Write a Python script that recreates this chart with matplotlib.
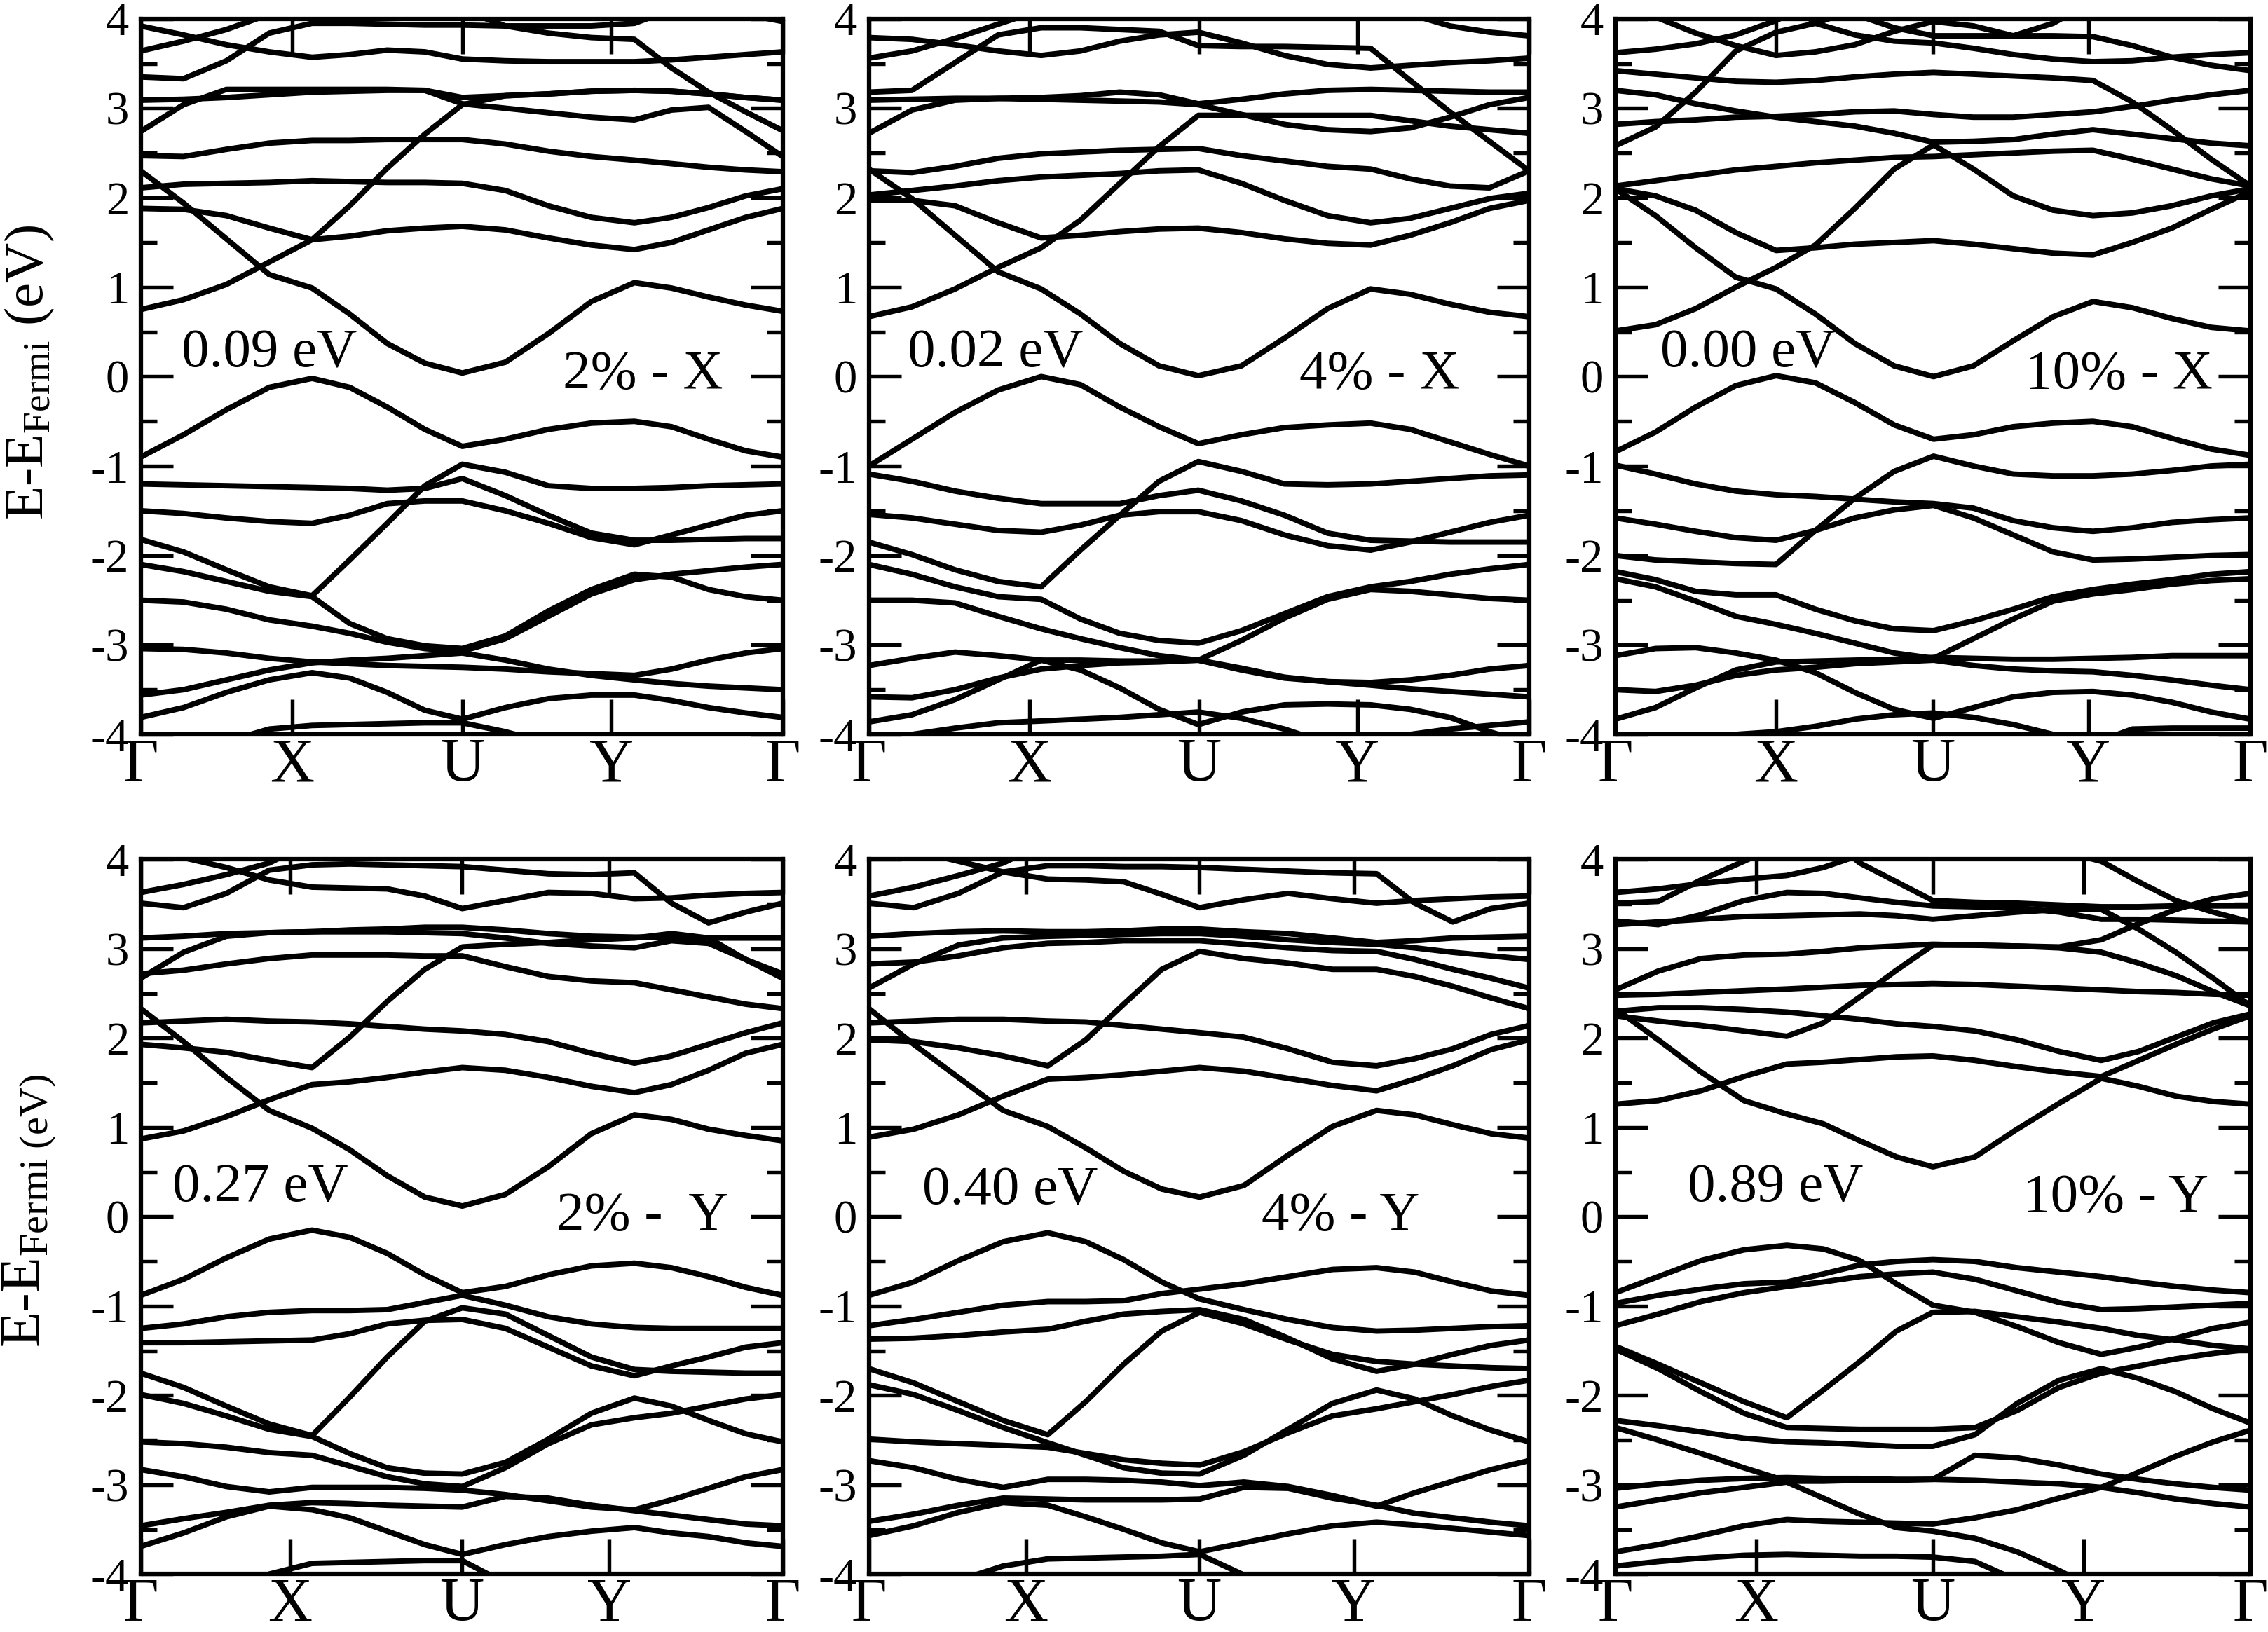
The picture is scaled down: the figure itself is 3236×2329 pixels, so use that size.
import numpy as np
import matplotlib.pyplot as plt
from matplotlib.ticker import MultipleLocator

plt.rcParams['font.family'] = ['Liberation Serif', 'DejaVu Serif']
plt.rcParams['mathtext.fontset'] = 'custom'
plt.rcParams['mathtext.rm'] = 'Liberation Serif'
plt.rcParams['mathtext.it'] = 'Liberation Serif:italic'
plt.rcParams['axes.unicode_minus'] = False

kpath_labels = ['Γ', 'X', 'U', 'Y', 'Γ']
H = 4.3  # band above window
L = -4.3  # band below window

# ---- 2% - X ----
p1_nodes = [0, 0.267, 0.501, 0.769, 1]
p1_ticks = [0, 0.236, 0.501, 0.733, 1]
p1_bands = [
    [3.92, 3.82, 3.71, 3.63, 3.57, 3.60, 3.65, 3.63, 3.55, 3.53, 3.52, 3.52, 3.52, 3.54, 3.57, 3.60, 3.63],
    [3.64, 3.75, 3.88, 4.05, 4.2, H, H, H, H, H, H, H, H, H, H, H, H],
    [3.35, 3.33, 3.53, 3.84, 3.95, 3.95, 3.94, 3.93, 3.93, 3.92, 3.92, 3.92, 3.95, 4.10, 4.15, 4.05, 3.97],
    [4.4, 4.4, 4.4, 4.4, 4.4, 4.4, 4.3, 4.2, 4.1, 3.92, 3.84, 3.79, 3.77, 3.45, 3.18, 2.96, 2.75],
    [3.09, 3.10, 3.12, 3.15, 3.18, 3.19, 3.20, 3.20, 3.12, 3.14, 3.16, 3.19, 3.20, 3.19, 3.16, 3.12, 3.09],
    [2.74, 3.04, 3.21, 3.21, 3.21, 3.21, 3.21, 3.20, 3.05, 3.00, 2.95, 2.90, 2.87, 2.98, 3.01, 2.74, 2.46],
    [0.75, 0.86, 1.03, 1.28, 1.53, 1.91, 2.33, 2.71, 3.04, 3.14, 3.16, 3.19, 3.20, 3.19, 3.16, 3.12, 3.09],
    [2.47, 2.46, 2.54, 2.61, 2.64, 2.64, 2.65, 2.65, 2.65, 2.60, 2.52, 2.46, 2.42, 2.38, 2.34, 2.31, 2.29],
    [2.11, 2.15, 2.16, 2.17, 2.19, 2.18, 2.17, 2.17, 2.16, 2.08, 1.91, 1.78, 1.72, 1.78, 1.89, 2.02, 2.10],
    [1.88, 1.87, 1.80, 1.66, 1.53, 1.57, 1.63, 1.66, 1.68, 1.64, 1.55, 1.47, 1.42, 1.50, 1.64, 1.78, 1.88],
    [2.30, 1.94, 1.54, 1.14, 0.99, 0.70, 0.37, 0.15, 0.04, 0.16, 0.48, 0.84, 1.05, 0.99, 0.89, 0.80, 0.73],
    [-0.90, -0.65, -0.37, -0.12, -0.02, -0.12, -0.34, -0.59, -0.78, -0.70, -0.59, -0.52, -0.50, -0.56, -0.70, -0.83, -0.90],
    [-1.20, -1.21, -1.22, -1.23, -1.24, -1.25, -1.27, -1.25, -1.14, -1.33, -1.55, -1.75, -1.83, -1.83, -1.82, -1.81, -1.81],
    [-1.82, -1.96, -2.16, -2.35, -2.45, -2.05, -1.64, -1.22, -0.98, -1.07, -1.22, -1.25, -1.25, -1.24, -1.22, -1.21, -1.20],
    [-1.50, -1.53, -1.58, -1.62, -1.64, -1.55, -1.42, -1.39, -1.39, -1.50, -1.64, -1.80, -1.88, -1.77, -1.66, -1.55, -1.50],
    [-2.10, -2.18, -2.29, -2.40, -2.46, -2.76, -2.93, -3.01, -3.04, -2.90, -2.62, -2.38, -2.21, -2.24, -2.38, -2.46, -2.50],
    [-2.50, -2.52, -2.60, -2.72, -2.79, -2.87, -2.97, -3.04, -3.07, -2.93, -2.68, -2.43, -2.27, -2.21, -2.17, -2.13, -2.10],
    [-3.04, -3.05, -3.09, -3.15, -3.19, -3.21, -3.23, -3.24, -3.25, -3.27, -3.30, -3.32, -3.34, -3.27, -3.17, -3.09, -3.04],
    [-3.56, -3.50, -3.39, -3.28, -3.20, -3.17, -3.15, -3.12, -3.09, -3.17, -3.27, -3.34, -3.39, -3.43, -3.46, -3.48, -3.50],
    [-3.81, -3.70, -3.53, -3.39, -3.31, -3.37, -3.53, -3.73, -3.83, -3.70, -3.60, -3.56, -3.56, -3.62, -3.70, -3.76, -3.81],
    [L, -4.2, -4.08, -3.94, -3.90, -3.89, -3.88, -3.87, -3.87, -3.97, -4.1, L, L, L, L, L, L],
]

# ---- 4% - X ----
p2_nodes = [0, 0.261, 0.499, 0.760, 1]
p2_ticks = [0, 0.243, 0.500, 0.740, 1]
p2_bands = [
    [3.79, 3.77, 3.71, 3.64, 3.59, 3.64, 3.75, 3.82, 3.85, 3.73, 3.59, 3.49, 3.45, 3.48, 3.51, 3.53, 3.56],
    [3.56, 3.64, 3.78, 3.94, 4.1, H, H, H, H, H, H, H, H, H, H, H, H],
    [H, H, H, H, H, H, H, H, H, H, H, H, H, 4.05, 3.92, 3.85, 3.81],
    [3.18, 3.20, 3.51, 3.82, 3.90, 3.90, 3.88, 3.86, 3.70, 3.69, 3.69, 3.68, 3.67, 3.31, 2.96, 2.63, 2.30],
    [3.09, 3.10, 3.11, 3.11, 3.12, 3.14, 3.18, 3.15, 3.05, 3.10, 3.16, 3.20, 3.21, 3.20, 3.19, 3.18, 3.18],
    [2.72, 2.98, 3.09, 3.11, 3.10, 3.09, 3.08, 3.07, 3.04, 2.93, 2.82, 2.76, 2.74, 2.78, 2.90, 3.04, 3.12],
    [0.67, 0.78, 0.98, 1.22, 1.44, 1.75, 2.16, 2.57, 2.92, 2.92, 2.92, 2.92, 2.92, 2.86, 2.80, 2.76, 2.72],
    [2.30, 2.28, 2.35, 2.44, 2.49, 2.51, 2.53, 2.54, 2.55, 2.47, 2.41, 2.35, 2.32, 2.21, 2.13, 2.11, 2.30],
    [2.03, 2.08, 2.13, 2.19, 2.23, 2.25, 2.27, 2.30, 2.31, 2.16, 1.97, 1.80, 1.72, 1.77, 1.88, 1.99, 2.05],
    [1.97, 1.97, 1.91, 1.72, 1.55, 1.58, 1.62, 1.65, 1.66, 1.61, 1.54, 1.49, 1.47, 1.58, 1.72, 1.88, 1.97],
    [2.32, 1.99, 1.58, 1.17, 0.98, 0.70, 0.37, 0.12, 0.01, 0.12, 0.43, 0.76, 0.98, 0.92, 0.81, 0.72, 0.67],
    [-1.00, -0.70, -0.40, -0.15, 0.00, -0.09, -0.34, -0.56, -0.75, -0.65, -0.57, -0.54, -0.52, -0.59, -0.73, -0.87, -1.00],
    [-1.09, -1.17, -1.28, -1.36, -1.42, -1.42, -1.42, -1.33, -1.27, -1.39, -1.55, -1.75, -1.83, -1.84, -1.85, -1.85, -1.85],
    [-1.85, -1.99, -2.16, -2.29, -2.35, -1.94, -1.55, -1.17, -0.95, -1.06, -1.20, -1.21, -1.20, -1.17, -1.14, -1.11, -1.10],
    [-1.54, -1.58, -1.65, -1.72, -1.74, -1.66, -1.55, -1.51, -1.51, -1.61, -1.77, -1.89, -1.94, -1.85, -1.74, -1.63, -1.55],
    [-2.10, -2.21, -2.35, -2.46, -2.49, -2.71, -2.87, -2.95, -2.98, -2.84, -2.65, -2.46, -2.35, -2.29, -2.21, -2.15, -2.10],
    [-2.50, -2.50, -2.53, -2.68, -2.82, -2.93, -3.03, -3.12, -3.17, -2.95, -2.70, -2.49, -2.38, -2.40, -2.44, -2.48, -2.50],
    [-3.23, -3.15, -3.08, -3.12, -3.17, -3.28, -3.48, -3.72, -3.89, -3.75, -3.67, -3.66, -3.67, -3.72, -3.81, -3.97, -4.1],
    [-3.58, -3.59, -3.50, -3.37, -3.27, -3.23, -3.20, -3.19, -3.17, -3.28, -3.37, -3.41, -3.42, -3.39, -3.34, -3.27, -3.23],
    [-3.86, -3.78, -3.61, -3.39, -3.17, -3.17, -3.18, -3.18, -3.17, -3.26, -3.36, -3.41, -3.45, -3.49, -3.52, -3.55, -3.58],
    [-4.2, -4.0, -3.93, -3.87, -3.85, -3.83, -3.81, -3.78, -3.75, -3.82, -3.94, -4.1, -4.2, -4.0, -3.94, -3.90, -3.86],
]

# ---- 10% - X ----
p3_nodes = [0, 0.253, 0.501, 0.752, 1]
p3_ticks = [0, 0.253, 0.500, 0.745, 1]
p3_bands = [
    [3.62, 3.66, 3.72, 3.82, 3.98, 4.2, H, H, H, H, H, H, H, H, H, H, H],
    [4.15, 4.02, 3.84, 3.70, 3.59, 3.63, 3.71, 3.86, 3.97, 3.92, 3.81, 3.95, 4.2, H, H, H, H],
    [H, H, H, H, H, 3.95, 3.82, 3.75, 3.73, 3.67, 3.60, 3.55, 3.52, 3.53, 3.57, 3.60, 3.62],
    [3.42, 3.38, 3.34, 3.30, 3.29, 3.31, 3.35, 3.38, 3.40, 3.38, 3.36, 3.34, 3.31, 3.07, 2.76, 2.43, 2.13],
    [H, H, H, H, H, H, 4.05, 3.90, 3.81, 3.81, 3.81, 3.81, 3.80, 3.70, 3.57, 3.48, 3.42],
    [3.20, 3.15, 3.05, 2.97, 2.90, 2.85, 2.80, 2.72, 2.62, 2.63, 2.65, 2.71, 2.76, 2.71, 2.66, 2.61, 2.58],
    [2.82, 2.85, 2.87, 2.90, 2.91, 2.93, 2.96, 2.97, 2.93, 2.90, 2.90, 2.93, 2.96, 3.02, 3.09, 3.15, 3.20],
    [2.58, 2.79, 3.18, 3.64, 3.85, 3.95, 4.1, H, H, H, H, H, H, H, H, H, H],
    [2.13, 2.19, 2.25, 2.31, 2.35, 2.39, 2.42, 2.45, 2.46, 2.48, 2.50, 2.52, 2.53, 2.43, 2.32, 2.21, 2.13],
    [2.10, 2.02, 1.86, 1.61, 1.41, 1.44, 1.48, 1.50, 1.52, 1.48, 1.43, 1.38, 1.36, 1.50, 1.66, 1.87, 2.07],
    [0.51, 0.58, 0.76, 1.00, 1.22, 1.47, 1.88, 2.32, 2.59, 2.32, 2.02, 1.86, 1.80, 1.83, 1.91, 2.02, 2.10],
    [2.10, 1.80, 1.44, 1.11, 0.98, 0.70, 0.37, 0.12, 0.00, 0.12, 0.40, 0.67, 0.84, 0.77, 0.65, 0.55, 0.51],
    [-0.84, -0.62, -0.34, -0.10, 0.01, -0.07, -0.29, -0.54, -0.70, -0.65, -0.56, -0.52, -0.50, -0.56, -0.69, -0.81, -0.88],
    [-0.99, -1.09, -1.20, -1.28, -1.32, -1.34, -1.37, -1.40, -1.42, -1.47, -1.61, -1.69, -1.73, -1.69, -1.63, -1.60, -1.58],
    [-2.00, -2.05, -2.07, -2.09, -2.10, -1.72, -1.36, -1.06, -0.89, -1.00, -1.09, -1.11, -1.11, -1.09, -1.05, -1.00, -0.98],
    [-1.58, -1.65, -1.73, -1.80, -1.83, -1.72, -1.58, -1.49, -1.44, -1.58, -1.77, -1.96, -2.05, -2.04, -2.02, -2.00, -1.99],
    [-2.18, -2.27, -2.40, -2.44, -2.44, -2.60, -2.73, -2.82, -2.84, -2.73, -2.60, -2.46, -2.38, -2.32, -2.27, -2.21, -2.18],
    [-2.26, -2.35, -2.51, -2.68, -2.77, -2.87, -2.98, -3.09, -3.15, -2.93, -2.71, -2.51, -2.43, -2.38, -2.32, -2.28, -2.26],
    [-3.12, -3.04, -3.03, -3.09, -3.17, -3.31, -3.53, -3.72, -3.82, -3.70, -3.58, -3.53, -3.52, -3.56, -3.64, -3.75, -3.83],
    [-3.50, -3.52, -3.45, -3.34, -3.28, -3.25, -3.21, -3.19, -3.17, -3.23, -3.27, -3.29, -3.30, -3.34, -3.39, -3.45, -3.50],
    [-3.83, -3.70, -3.48, -3.28, -3.19, -3.18, -3.17, -3.16, -3.14, -3.15, -3.16, -3.16, -3.15, -3.14, -3.12, -3.12, -3.12],
    [-4.2, -4.2, -4.1, -4.0, -3.97, -3.91, -3.83, -3.78, -3.76, -3.81, -3.89, -4.0, -4.1, -3.94, -3.93, -3.93, -3.93],
]

# ---- 2% - Y ----
p4_nodes = [0, 0.267, 0.501, 0.769, 1]
p4_ticks = [0, 0.233, 0.500, 0.730, 1]
p4_bands = [
    [2.33, 1.96, 1.56, 1.19, 0.99, 0.75, 0.46, 0.22, 0.12, 0.25, 0.56, 0.93, 1.14, 1.09, 0.98, 0.91, 0.85],
    [0.87, 0.96, 1.12, 1.31, 1.48, 1.51, 1.56, 1.62, 1.67, 1.64, 1.56, 1.46, 1.39, 1.48, 1.64, 1.83, 1.93],
    [1.93, 1.89, 1.84, 1.75, 1.67, 2.01, 2.41, 2.77, 3.02, 3.05, 3.07, 3.10, 3.12, 3.17, 3.12, 2.88, 2.67],
    [2.17, 2.19, 2.21, 2.19, 2.18, 2.16, 2.13, 2.10, 2.08, 2.04, 1.96, 1.83, 1.72, 1.80, 1.93, 2.06, 2.17],
    [2.72, 2.76, 2.83, 2.89, 2.93, 2.93, 2.93, 2.92, 2.92, 2.80, 2.69, 2.64, 2.62, 2.54, 2.46, 2.38, 2.33],
    [3.12, 3.14, 3.17, 3.18, 3.19, 3.21, 3.22, 3.24, 3.24, 3.21, 3.17, 3.14, 3.13, 3.13, 3.12, 3.12, 3.12],
    [2.67, 2.96, 3.14, 3.18, 3.19, 3.19, 3.19, 3.18, 3.17, 3.12, 3.06, 3.03, 3.01, 3.09, 3.06, 2.88, 2.72],
    [3.63, 3.72, 3.83, 3.96, 4.2, H, H, H, H, H, H, H, H, H, H, H, H],
    [3.51, 3.46, 3.62, 3.88, 3.94, 3.95, 3.94, 3.93, 3.92, 3.88, 3.84, 3.83, 3.85, 3.51, 3.29, 3.41, 3.51],
    [4.2, 4.02, 3.91, 3.77, 3.69, 3.68, 3.67, 3.59, 3.45, 3.54, 3.63, 3.62, 3.56, 3.57, 3.60, 3.62, 3.63],
    [-0.88, -0.70, -0.46, -0.25, -0.15, -0.23, -0.41, -0.65, -0.85, -0.78, -0.65, -0.55, -0.52, -0.57, -0.67, -0.79, -0.88],
    [-1.25, -1.20, -1.12, -1.07, -1.05, -1.05, -1.04, -0.96, -0.88, -0.99, -1.12, -1.20, -1.24, -1.25, -1.25, -1.25, -1.25],
    [-1.41, -1.41, -1.40, -1.39, -1.38, -1.31, -1.20, -1.16, -1.15, -1.25, -1.46, -1.67, -1.78, -1.67, -1.57, -1.46, -1.41],
    [-1.75, -1.91, -2.12, -2.32, -2.45, -2.02, -1.57, -1.17, -1.02, -1.09, -1.33, -1.57, -1.71, -1.73, -1.74, -1.75, -1.75],
    [-1.99, -2.09, -2.23, -2.38, -2.46, -2.65, -2.81, -2.87, -2.88, -2.75, -2.49, -2.20, -2.03, -2.12, -2.28, -2.43, -2.52],
    [-2.52, -2.54, -2.58, -2.64, -2.67, -2.79, -2.91, -2.99, -3.02, -2.81, -2.54, -2.33, -2.25, -2.20, -2.12, -2.04, -1.99],
    [-2.83, -2.91, -3.02, -3.08, -3.03, -3.03, -3.03, -3.04, -3.06, -3.11, -3.18, -3.25, -3.28, -3.17, -3.04, -2.91, -2.83],
    [-3.46, -3.38, -3.31, -3.23, -3.20, -3.21, -3.23, -3.24, -3.25, -3.13, -3.15, -3.23, -3.29, -3.34, -3.39, -3.44, -3.46],
    [-3.69, -3.54, -3.36, -3.24, -3.28, -3.37, -3.52, -3.67, -3.78, -3.67, -3.58, -3.52, -3.48, -3.54, -3.58, -3.65, -3.69],
    [L, -4.2, -4.2, -4.0, -3.88, -3.87, -3.86, -3.85, -3.85, -4.1, L, L, L, L, L, L, L],
]

# ---- 4% - Y ----
p5_nodes = [0, 0.271, 0.501, 0.769, 1]
p5_ticks = [0, 0.238, 0.500, 0.735, 1]
p5_bands = [
    [2.33, 1.93, 1.56, 1.19, 1.01, 0.77, 0.51, 0.31, 0.22, 0.35, 0.69, 1.01, 1.19, 1.14, 1.03, 0.93, 0.88],
    [0.89, 0.98, 1.14, 1.35, 1.54, 1.56, 1.59, 1.63, 1.67, 1.63, 1.55, 1.47, 1.41, 1.54, 1.69, 1.87, 1.98],
    [1.98, 1.96, 1.89, 1.80, 1.69, 1.98, 2.38, 2.77, 2.97, 2.89, 2.84, 2.77, 2.77, 2.69, 2.58, 2.45, 2.33],
    [2.17, 2.19, 2.21, 2.21, 2.19, 2.18, 2.14, 2.10, 2.06, 2.01, 1.88, 1.73, 1.69, 1.77, 1.88, 2.04, 2.14],
    [2.83, 2.85, 2.92, 3.01, 3.06, 3.07, 3.09, 3.09, 3.09, 3.05, 3.01, 2.98, 2.97, 2.88, 2.77, 2.67, 2.56],
    [2.56, 2.83, 3.04, 3.12, 3.14, 3.15, 3.16, 3.17, 3.17, 3.14, 3.10, 3.07, 3.05, 3.01, 2.96, 2.92, 2.88],
    [3.14, 3.17, 3.19, 3.20, 3.19, 3.19, 3.20, 3.22, 3.22, 3.19, 3.17, 3.12, 3.07, 3.09, 3.12, 3.13, 3.14],
    [3.59, 3.69, 3.82, 3.96, 4.2, H, H, H, H, H, H, H, H, H, H, H, H],
    [3.51, 3.46, 3.62, 3.86, 3.93, 3.93, 3.92, 3.92, 3.91, 3.89, 3.87, 3.85, 3.84, 3.51, 3.30, 3.45, 3.51],
    [4.2, 4.1, 3.98, 3.86, 3.78, 3.77, 3.75, 3.61, 3.46, 3.55, 3.62, 3.56, 3.51, 3.54, 3.56, 3.58, 3.59],
    [-0.88, -0.73, -0.49, -0.28, -0.18, -0.28, -0.48, -0.73, -0.92, -1.04, -1.15, -1.24, -1.28, -1.27, -1.25, -1.23, -1.22],
    [-1.22, -1.15, -1.07, -0.99, -0.95, -0.95, -0.94, -0.86, -0.81, -0.75, -0.67, -0.59, -0.57, -0.62, -0.73, -0.83, -0.88],
    [-1.37, -1.36, -1.33, -1.29, -1.26, -1.17, -1.09, -1.06, -1.04, -1.15, -1.36, -1.59, -1.73, -1.65, -1.54, -1.44, -1.38],
    [-1.70, -1.86, -2.07, -2.28, -2.44, -2.07, -1.65, -1.28, -1.07, -1.20, -1.38, -1.54, -1.62, -1.65, -1.67, -1.69, -1.70],
    [-1.88, -1.99, -2.17, -2.36, -2.53, -2.67, -2.81, -2.87, -2.88, -2.67, -2.38, -2.09, -1.94, -2.04, -2.23, -2.39, -2.52],
    [-2.49, -2.52, -2.54, -2.56, -2.58, -2.65, -2.72, -2.76, -2.78, -2.63, -2.42, -2.23, -2.15, -2.07, -1.99, -1.90, -1.83],
    [-2.73, -2.81, -2.94, -3.03, -2.94, -2.94, -2.95, -2.97, -3.01, -2.97, -3.02, -3.12, -3.24, -3.09, -2.96, -2.83, -2.73],
    [-3.41, -3.33, -3.23, -3.15, -3.16, -3.17, -3.17, -3.17, -3.16, -3.03, -3.04, -3.15, -3.23, -3.32, -3.37, -3.42, -3.46],
    [-3.57, -3.46, -3.31, -3.20, -3.23, -3.36, -3.50, -3.65, -3.75, -3.65, -3.55, -3.46, -3.42, -3.45, -3.49, -3.53, -3.57],
    [L, -4.2, -4.07, -3.91, -3.83, -3.82, -3.81, -3.80, -3.78, -4.01, -4.2, L, L, L, L, L, L],
]

# ---- 10% - Y ----
p6_nodes = [0, 0.270, 0.500, 0.765, 1]
p6_ticks = [0, 0.222, 0.500, 0.737, 1]
p6_bands = [
    [2.33, 1.98, 1.62, 1.30, 1.15, 1.04, 0.85, 0.67, 0.56, 0.67, 0.98, 1.27, 1.55, 1.46, 1.35, 1.29, 1.26],
    [1.26, 1.30, 1.41, 1.57, 1.71, 1.73, 1.76, 1.79, 1.80, 1.75, 1.68, 1.62, 1.57, 1.75, 1.93, 2.10, 2.25],
    [2.25, 2.19, 2.14, 2.08, 2.02, 2.17, 2.46, 2.76, 3.04, 3.04, 3.03, 3.01, 2.96, 2.84, 2.70, 2.52, 2.36],
    [2.30, 2.34, 2.34, 2.32, 2.29, 2.25, 2.21, 2.16, 2.13, 2.08, 1.98, 1.85, 1.75, 1.85, 2.01, 2.17, 2.27],
    [2.48, 2.49, 2.51, 2.53, 2.55, 2.57, 2.59, 2.60, 2.61, 2.60, 2.58, 2.56, 2.54, 2.52, 2.51, 2.49, 2.48],
    [2.54, 2.75, 2.89, 2.93, 2.94, 2.97, 3.01, 3.03, 3.05, 3.04, 3.03, 3.02, 3.10, 3.28, 3.44, 3.56, 3.62],
    [3.63, 3.67, 3.73, 3.78, 3.82, 3.91, 4.05, H, H, H, H, H, H, H, H, H, H],
    [3.51, 3.53, 3.77, 3.98, 4.2, H, H, H, H, H, H, H, H, H, H, H, H],
    [3.31, 3.27, 3.38, 3.54, 3.63, 3.62, 3.57, 3.52, 3.48, 3.47, 3.46, 3.41, 3.33, 3.33, 3.32, 3.31, 3.30],
    [3.27, 3.30, 3.33, 3.36, 3.37, 3.38, 3.39, 3.37, 3.33, 3.37, 3.41, 3.44, 3.44, 3.22, 2.96, 2.67, 2.36],
    [H, H, H, H, H, H, 3.96, 3.75, 3.54, 3.52, 3.51, 3.49, 3.47, 3.47, 3.48, 3.48, 3.48],
    [H, H, H, H, H, H, H, H, H, H, H, 4.1, 3.98, 3.75, 3.54, 3.41, 3.30],
    [-0.85, -0.67, -0.49, -0.37, -0.32, -0.36, -0.49, -0.75, -0.99, -1.07, -1.23, -1.41, -1.54, -1.46, -1.36, -1.25, -1.18],
    [-0.97, -0.88, -0.81, -0.75, -0.73, -0.64, -0.54, -0.50, -0.48, -0.50, -0.57, -0.62, -0.67, -0.73, -0.78, -0.82, -0.85],
    [-1.22, -1.09, -0.95, -0.85, -0.78, -0.73, -0.67, -0.64, -0.62, -0.70, -0.83, -0.96, -1.04, -1.03, -1.01, -0.99, -0.97],
    [-1.45, -1.65, -1.86, -2.07, -2.25, -1.94, -1.62, -1.28, -1.07, -1.06, -1.12, -1.18, -1.25, -1.33, -1.38, -1.44, -1.48],
    [-1.48, -1.70, -1.96, -2.20, -2.36, -2.37, -2.38, -2.38, -2.38, -2.36, -2.17, -1.91, -1.75, -1.67, -1.59, -1.53, -1.48],
    [-2.28, -2.34, -2.41, -2.48, -2.52, -2.53, -2.55, -2.57, -2.57, -2.44, -2.09, -1.83, -1.70, -1.81, -1.96, -2.15, -2.31],
    [-2.36, -2.50, -2.65, -2.81, -2.96, -2.96, -2.95, -2.95, -2.94, -2.67, -2.70, -2.78, -2.88, -2.94, -2.99, -3.03, -3.06],
    [-3.04, -2.99, -2.95, -2.93, -2.92, -2.93, -2.93, -2.94, -2.94, -2.95, -2.97, -2.99, -3.03, -3.09, -3.16, -3.21, -3.25],
    [-3.25, -3.17, -3.09, -3.03, -2.97, -3.15, -3.33, -3.48, -3.52, -3.60, -3.75, -3.96, -4.2, L, L, L, L],
    [-3.75, -3.67, -3.57, -3.46, -3.39, -3.41, -3.42, -3.43, -3.44, -3.37, -3.28, -3.15, -3.03, -2.86, -2.68, -2.52, -2.39],
    [-3.91, -3.86, -3.82, -3.79, -3.78, -3.79, -3.80, -3.80, -3.81, -3.86, -4.07, L, L, L, L, L, L],
]

gap_labels = ['0.09 eV', '0.02 eV', '0.00 eV', '0.27 eV', '0.40 eV', '0.89 eV']
strain_labels = ['2% - X', '4% - X', '10% - X', '2% -  Y', '4% - Y', '10% - Y']
gap_pos = [(0.20, 0.532), (0.192, 0.532), (0.209, 0.532), (0.186, 0.54), (0.214, 0.536), (0.252, 0.54)]
strain_pos = [(0.782, 0.502), (0.773, 0.502), (0.793, 0.502), (0.782, 0.50), (0.714, 0.50), (0.788, 0.526)]

panels = [
    (p1_nodes, p1_ticks, p1_bands),
    (p2_nodes, p2_ticks, p2_bands),
    (p3_nodes, p3_ticks, p3_bands),
    (p4_nodes, p4_ticks, p4_bands),
    (p5_nodes, p5_ticks, p5_bands),
    (p6_nodes, p6_ticks, p6_bands),
]

col_x = [(0.062, 0.283), (0.383, 0.291), (0.712, 0.280)]
row_y = [(0.5500, 0.4385), (0.0355, 0.4379)]


def kgrid(nodes):
    pts = []
    for a, b in zip(nodes[:-1], nodes[1:]):
        pts.extend(np.linspace(a, b, 5)[:-1])
    pts.append(nodes[-1])
    return np.array(pts)


fig = plt.figure(figsize=(3237 / 300, 2329 / 300), dpi=300)

for i, (nodes, ticks, bands) in enumerate(panels):
    r, c = divmod(i, 3)
    ax = fig.add_axes([col_x[c][0], row_y[r][0], col_x[c][1], row_y[r][1]])
    k = kgrid(nodes)
    for band in bands:
        ax.plot(k, band, color='black', lw=1.9, solid_joinstyle='round', solid_capstyle='round')
    ax.set_xlim(0, 1)
    ax.set_ylim(-4, 4)
    ax.set_xticks(ticks)
    ax.set_xticklabels(kpath_labels, fontsize=21)
    ax.set_yticks(range(-4, 5))
    ax.yaxis.set_minor_locator(MultipleLocator(0.5))
    ax.tick_params(axis='y', which='major', direction='in', length=11, width=1.3,
                   left=True, right=True, labelsize=16, pad=4)
    ax.tick_params(axis='y', which='minor', direction='in', length=5.5, width=1.3,
                   left=True, right=True)
    ax.tick_params(axis='x', which='major', direction='in', length=12, width=1.3,
                   top=True, bottom=True, pad=1)
    for s in ax.spines.values():
        s.set_linewidth(1.5)
    ax.text(*gap_pos[i], gap_labels[i], transform=ax.transAxes, fontsize=19,
            ha='center', va='center')
    ax.text(*strain_pos[i], strain_labels[i], transform=ax.transAxes, fontsize=19,
            ha='center', va='center')

fig.text(0.013, 0.772, r'E-E$_{\mathrm{Fermi}}$ (eV)', rotation=90, fontsize=19,
         ha='center', va='center')
fig.text(0.013, 0.258, r'E-E$_{\mathrm{Fermi\ (eV)}}$', rotation=90, fontsize=20,
         ha='center', va='center')

fig.savefig('out.png', dpi=300)
